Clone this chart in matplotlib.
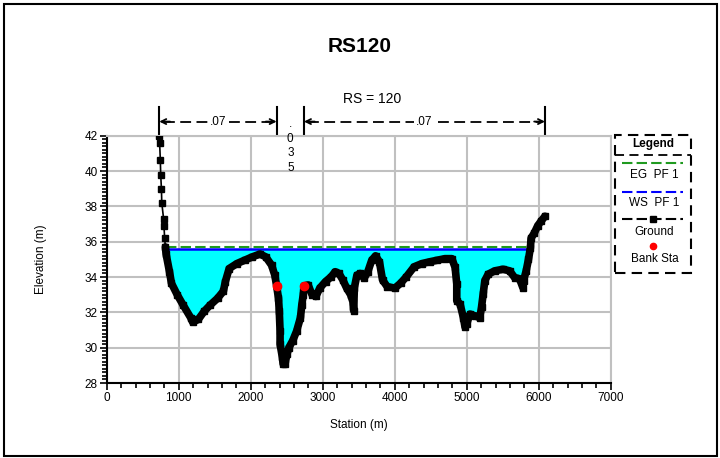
import numpy as np
import matplotlib
matplotlib.use('Agg')
import matplotlib.pyplot as plt
from matplotlib.patches import Rectangle
from matplotlib.ticker import MultipleLocator

plt.rcParams['font.family'] = ['Liberation Sans', 'DejaVu Sans']

# cross section RS 120 - ground survey points
station = [730, 735, 745, 750, 760, 765, 790, 795, 805, 815,
           825, 872, 899, 979, 1059, 1166, 1193, 1273, 1354, 1434,
           1541, 1621, 1648, 1701, 1808, 1915, 2022, 2129, 2209, 2290,
           2335, 2360, 2386, 2397, 2408, 2408, 2440, 2450, 2477, 2504,
           2530, 2584, 2638, 2691, 2710, 2730, 2740, 2798, 2852, 2905,
           2959, 3039, 3119, 3173, 3226, 3280, 3333, 3387, 3420, 3430,
           3440, 3475, 3520, 3574, 3627, 3681, 3734, 3788, 3831, 3895,
           4002, 4082, 4163, 4270, 4377, 4484, 4591, 4698, 4794, 4839,
           4862, 4862, 4908, 4954, 4977, 5000, 5046, 5115, 5183, 5206,
           5229, 5252, 5298, 5390, 5505, 5596, 5665, 5734, 5780, 5790,
           5826, 5858, 5885, 5894, 5940, 5986, 6032, 6087]
elevation = [42.0, 41.6, 40.6, 39.8, 39.0, 38.2, 37.3, 36.9, 36.2, 35.7,
             35.3, 34.3, 33.65, 33.0, 32.43, 31.7, 31.45, 31.6, 32.06, 32.4,
             32.8, 33.2, 33.74, 34.48, 34.76, 34.95, 35.14, 35.3, 35.14, 34.67,
             34.1, 33.5, 32.8, 32.06, 30.94, 30.2, 29.45, 29.08, 29.08, 29.64,
             30.0, 30.4, 30.94, 31.7, 32.43, 33.0, 33.5, 33.55, 33.0, 32.9,
             33.37, 33.74, 34.02, 34.3, 34.2, 33.83, 33.37, 33.0, 32.6, 32.1,
             33.4, 34.1, 34.2, 33.93, 34.3, 34.95, 35.2, 34.86, 33.83, 33.46,
             33.37, 33.65, 34.02, 34.58, 34.76, 34.86, 34.95, 35.04, 35.04, 34.54,
             33.6, 32.66, 32.47, 31.7, 31.16, 31.35, 31.9, 31.8, 31.7, 32.3,
             33.04, 33.8, 34.16, 34.35, 34.44, 34.35, 33.97, 33.9, 33.4, 33.8,
             34.35, 35.0, 35.66, 36.2, 36.5, 36.9, 37.16, 37.44]

bank_sta = [2360, 2740]
bank_elev = [33.5, 33.5]

ws_elev = 35.57   # WS PF 1
eg_elev = 35.71   # EG PF 1

n_values = ['.07', '.035', '.07']

sta = np.array(station, dtype=float)
elev = np.array(elevation, dtype=float)


def wet_edges(x, z, level):
    wet = np.where(z < level)[0]
    i, j = wet[0], wet[-1]
    left = np.interp(level, [z[i], z[i - 1]], [x[i], x[i - 1]])
    right = np.interp(level, [z[j], z[j + 1]], [x[j], x[j + 1]])
    return left, right


fig = plt.figure(figsize=(7.2, 4.58), dpi=100)
ax = fig.add_axes([106.7 / 720, 1 - 383 / 458, 504 / 720, 247.3 / 458])

ax.set_xlim(0, 7000)
ax.set_ylim(28, 42)

grid_c = '#c0c0c0'
ax.grid(True, which='major', color=grid_c, lw=1.5)
ax.set_axisbelow(True)
for side in ('top', 'right'):
    ax.spines[side].set_color(grid_c)
    ax.spines[side].set_linewidth(1.5)
for side in ('left', 'bottom'):
    ax.spines[side].set_linewidth(1.5)

ax.xaxis.set_major_locator(MultipleLocator(1000))
ax.xaxis.set_minor_locator(MultipleLocator(200))
ax.yaxis.set_major_locator(MultipleLocator(2))
ax.yaxis.set_minor_locator(MultipleLocator(0.2))
ax.tick_params(which='major', length=5, width=1.2, labelsize=8.5, pad=1.5)
ax.tick_params(which='minor', length=3.5, width=1.2)

ax.set_xlabel('Station (m)', fontsize=8.5, labelpad=11)
ax.set_ylabel('Elevation (m)', fontsize=8.5, labelpad=27)

# water area
xl, xr = wet_edges(sta, elev, ws_elev)
ax.fill_between(sta, elev, ws_elev, where=elev < ws_elev, interpolate=True,
                color='#00ffff', lw=0, zorder=2)
ax.plot([xl, xr], [eg_elev, eg_elev], color='#1f9a1f', lw=1.5,
        dashes=(5, 2), zorder=3)
ax.plot([xl, xr], [ws_elev, ws_elev], color='#0000ff', lw=1.8, zorder=3)

# ground
ax.plot(sta, elev, color='black', lw=1.2, marker='s', ms=5, zorder=4)
ax.plot(sta[9:], elev[9:], color='black', lw=5.5, solid_joinstyle='round',
        solid_capstyle='round', zorder=4)
ax.plot(bank_sta, bank_elev, 'o', color='red', ms=6, mec='red', zorder=5)

# manning's n regions above the section
y_arr = 42.8
y_top, y_bot = 43.65, 42.05
edges = [sta[0], bank_sta[0], bank_sta[1], sta[-1]]
for xe in edges:
    ax.plot([xe, xe], [y_bot, y_top], color='black', lw=1.5, clip_on=False)
for k, (a, b) in enumerate(zip(edges[:-1], edges[1:])):
    mid = (a + b) / 2
    if k == 1:
        # too narrow for a row, stack the characters
        ax.text(mid, 43.0, '\n'.join(n_values[k]), ha='center', va='top',
                fontsize=8.5, linespacing=1.3)
        continue
    ax.plot([a + 60, b - 60], [y_arr, y_arr], color='black', lw=1.3,
            dashes=(6, 3), clip_on=False)
    for xe, xs in ((a, a + 150), (b, b - 150)):
        ax.annotate('', xy=(xe, y_arr), xytext=(xs, y_arr),
                    arrowprops=dict(arrowstyle='->', lw=1.3, color='black',
                                    shrinkA=0, shrinkB=0, mutation_scale=9),
                    annotation_clip=False)
    ax.text(mid, y_arr, n_values[k], ha='center', va='center', fontsize=8.5,
            bbox=dict(facecolor='white', edgecolor='none', pad=1.5))

ax.text(3685, 44.1, 'RS = 120', ha='center', va='center', fontsize=10)

fig.text(0.5, 1 - 46 / 458, 'RS120', ha='center', va='center',
         fontsize=15, fontweight='bold')

# legend box
lax = fig.add_axes([615 / 720, 1 - 273 / 458, 76 / 720, 138 / 458])
lax.set_xlim(0, 1)
lax.set_ylim(0, 1)
lax.axis('off')
lax.add_patch(Rectangle((0, 0), 1, 1, fill=False, ec='black', lw=1.5,
                        ls=(0, (5, 3)), clip_on=False))
lax.plot([0, 1], [0.855, 0.855], color='black', lw=1.3, ls=(0, (5, 3)))
lax.text(0.5, 0.935, 'Legend', ha='center', va='center', fontsize=8.5,
         fontweight='bold')
x0, x1 = 0.09, 0.9
lax.plot([x0, x1], [0.795, 0.795], color='#1f9a1f', lw=1.5, dashes=(5, 2))
lax.text(0.52, 0.71, 'EG  PF 1', ha='center', va='center', fontsize=8.5)
lax.plot([x0, x1], [0.589, 0.589], color='#0000ff', lw=1.5, dashes=(5, 2))
lax.text(0.52, 0.505, 'WS  PF 1', ha='center', va='center', fontsize=8.5)
lax.plot([x0, x1], [0.389, 0.389], color='black', lw=1.5, dashes=(5, 2))
lax.plot([0.5], [0.389], 's', color='black', ms=4)
lax.text(0.52, 0.299, 'Ground', ha='center', va='center', fontsize=8.5)
lax.plot([0.5], [0.196], 'o', color='red', ms=4.5)
lax.text(0.52, 0.099, 'Bank Sta', ha='center', va='center', fontsize=8.5)

# frame around the whole figure
fig.patches.append(Rectangle((3.5 / 720, 2.5 / 458), 713 / 720, 452 / 458,
                             transform=fig.transFigure, fill=False,
                             ec='black', lw=1.5))

fig.savefig('out.png', dpi=100)
